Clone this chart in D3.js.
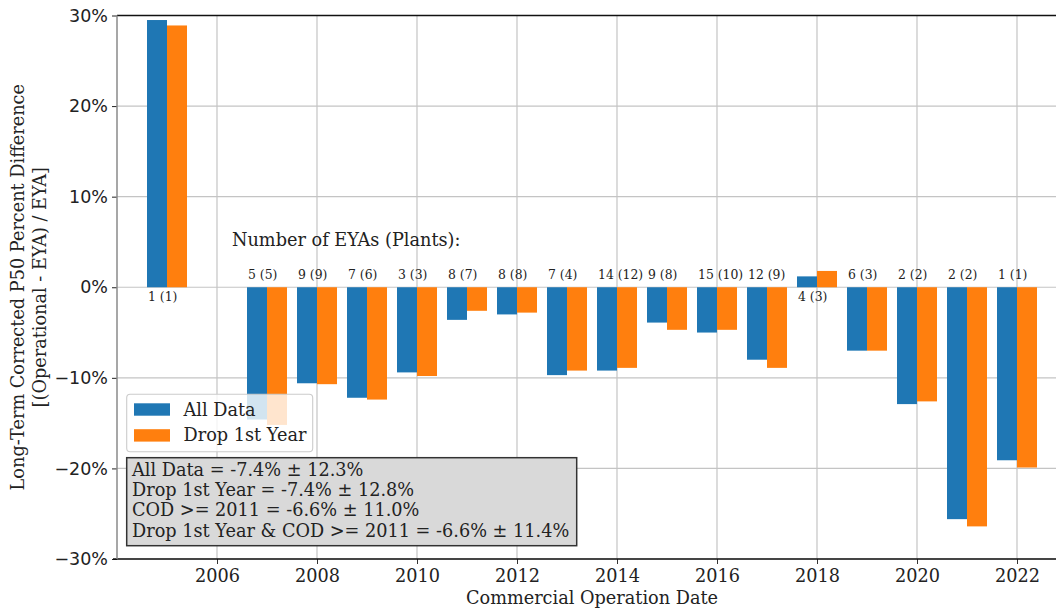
<!DOCTYPE html>
<html>
<head>
<meta charset="utf-8">
<script src="https://cdn.jsdelivr.net/npm/d3@7"></script>
<style>
  body { margin: 0; background: #fff; }
  svg { display: block; }
  .serif { font-family: "DejaVu Serif", serif; }
</style>
</head>
<body>
<svg id="chart" width="1056" height="610"></svg>
<script>
// commercial operation year of each group
var years = [2005, 2007, 2008, 2009, 2010, 2011, 2012, 2013, 2014,
             2015, 2016, 2017, 2018, 2019, 2020, 2021, 2022];
// mean percent difference, all data
var allData = [29.5, -14.6, -10.6, -12.2, -9.4, -3.6, -3.0, -9.7, -9.2,
               -3.9, -5.0, -8.0, 1.2, -7.0, -12.9, -25.6, -19.1];
// mean percent difference, first operational year dropped
var dropFirst = [28.9, -15.2, -10.7, -12.4, -9.8, -2.6, -2.8, -9.2, -8.9,
                 -4.7, -4.7, -8.9, 1.8, -7.0, -12.6, -26.4, -19.9];
// number of EYAs (plants) per group
var eyaCounts = ["1 (1)", "5 (5)", "9 (9)", "7 (6)", "3 (3)", "8 (7)", "8 (8)", "7 (4)", "14 (12)",
                 "9 (8)", "15 (10)", "12 (9)", "4 (3)", "6 (3)", "2 (2)", "2 (2)", "1 (1)"];
var xTicks = [2006, 2008, 2010, 2012, 2014, 2016, 2018, 2020, 2022];
var yTicks = [-30, -20, -10, 0, 10, 20, 30];
var seriesNames = ["All Data", "Drop 1st Year"];
var statLines = [
  "All Data = -7.4% \u00b1 12.3%",
  "Drop 1st Year = -7.4% \u00b1 12.8%",
  "COD >= 2011 = -6.6% \u00b1 11.0%",
  "Drop 1st Year & COD >= 2011 = -6.6% \u00b1 11.4%"
];

var colors = ["#1f77b4", "#ff7f0e"];
var barW = 0.4,
    fs = 17.7;

var svg = d3.select("#chart"),
    pLeft = 117, pRight = 1067, pTop = 15.5, pBottom = 559;

var x = d3.scaleLinear().domain([2004, 2023]).range([pLeft, pRight]);
var y = d3.scaleLinear().domain([-30, 30]).range([pBottom, pTop]);

// grid
var grid = svg.append("g").attr("stroke", "#c4c4c4").attr("stroke-width", 1.2);
grid.selectAll("line.gx").data(xTicks).enter().append("line")
    .attr("x1", function (d) { return x(d); }).attr("x2", function (d) { return x(d); })
    .attr("y1", pTop).attr("y2", pBottom);
grid.selectAll("line.gy").data(yTicks).enter().append("line")
    .attr("x1", pLeft).attr("x2", pRight)
    .attr("y1", function (d) { return y(d); }).attr("y2", function (d) { return y(d); });

// bars
var rows = years.map(function (yr, i) {
  return { year: yr, vals: [allData[i], dropFirst[i]], label: eyaCounts[i] };
});

[0, 1].forEach(function (s) {
  svg.append("g").selectAll("rect").data(rows).enter().append("rect")
      .attr("x", function (d) { return x(d.year - barW + s * barW); })
      .attr("width", x(2004 + barW) - x(2004))
      .attr("y", function (d) { return y(Math.max(0, d.vals[s])); })
      .attr("height", function (d) { return Math.abs(y(d.vals[s]) - y(0)); })
      .attr("fill", colors[s]);
});

// count labels, above zero for negative bars, below for positive
svg.append("g").attr("class", "serif").selectAll("text").data(rows).enter().append("text")
    .attr("x", function (d) { return x(d.year - barW) + 1; })
    .attr("y", function (d) { return d.vals[0] > 0 ? y(0) + 14 : y(0) - 8; })
    .attr("font-size", 12.4)
    .attr("fill", "#222")
    .text(function (d) { return d.label; });

svg.append("text").attr("class", "serif")
    .attr("x", x(2006.3)).attr("y", y(4.5))
    .attr("font-size", fs).attr("fill", "#222")
    .text("Number of EYAs (Plants):");

// axes
var xAxis = svg.append("g").attr("transform", "translate(0," + pBottom + ")")
    .call(d3.axisBottom(x).tickValues(xTicks).tickFormat(d3.format("d")).tickSize(5).tickPadding(5));
xAxis.select(".domain").remove();
xAxis.selectAll("text").attr("class", "serif").attr("font-size", fs).attr("fill", "#222");
xAxis.selectAll(".tick line").attr("stroke", "#333");

var yAxis = svg.append("g").attr("transform", "translate(" + pLeft + ",0)")
    .call(d3.axisLeft(y).tickValues(yTicks)
      .tickFormat(function (d) { return (d < 0 ? "\u2212" : "") + Math.abs(d) + "%"; })
      .tickSize(5).tickPadding(4));
yAxis.select(".domain").remove();
yAxis.selectAll("text").attr("font-family", "DejaVu Sans, sans-serif").attr("font-size", 17.5).attr("fill", "#222");
yAxis.selectAll(".tick line").attr("stroke", "#222");

// spines
svg.append("line").attr("x1", pLeft).attr("x2", pRight).attr("y1", pTop).attr("y2", pTop)
    .attr("stroke", "#111").attr("stroke-width", 1.3);
svg.append("line").attr("x1", pLeft - 4).attr("x2", pRight).attr("y1", pBottom).attr("y2", pBottom)
    .attr("stroke", "#111").attr("stroke-width", 1.3);
svg.append("line").attr("x1", pLeft).attr("x2", pLeft).attr("y1", pTop).attr("y2", pBottom)
    .attr("stroke", "#8a8a8a").attr("stroke-width", 1.5);

// axis titles
svg.append("text").attr("class", "serif")
    .attr("x", (pLeft + pRight) / 2).attr("y", 603.5)
    .attr("text-anchor", "middle").attr("font-size", fs).attr("fill", "#222")
    .text("Commercial Operation Date");

var yTitle = svg.append("text").attr("class", "serif")
    .attr("transform", "translate(0," + y(0) + ") rotate(-90)")
    .attr("text-anchor", "middle").attr("font-size", fs).attr("fill", "#222");
yTitle.append("tspan").attr("x", 0).attr("y", 24).text("Long-Term Corrected P50 Percent Difference");
yTitle.append("tspan").attr("x", 0).attr("y", 45.5).text("[(Operational - EYA) / EYA]");

// legend
var leg = svg.append("g").attr("class", "serif");
leg.append("rect").attr("x", 126.7).attr("y", 394.3).attr("width", 186).attr("height", 57.4)
    .attr("rx", 3.5).attr("fill", "#fff").attr("fill-opacity", 0.8)
    .attr("stroke", "#cccccc").attr("stroke-width", 1.1);
seriesNames.forEach(function (name, i) {
  leg.append("rect").attr("x", 134).attr("y", 403.3 + i * 25.9).attr("width", 36).attr("height", 12.4)
      .attr("fill", colors[i]);
  leg.append("text").attr("x", 183.5).attr("y", 415.5 + i * 25.9)
      .attr("font-size", fs).attr("fill", "#222").text(name);
});

// stats box
var stats = svg.append("g").attr("class", "serif");
stats.append("rect").attr("x", 126.7).attr("y", 457.7).attr("width", 450).attr("height", 88)
    .attr("fill", "#d9d9d9").attr("stroke", "#333").attr("stroke-width", 1.5);
stats.selectAll("text").data(statLines).enter().append("text")
    .attr("x", 132).attr("y", function (d, i) { return 475.7 + i * 20.3; })
    .attr("font-size", fs).attr("fill", "#222")
    .text(function (d) { return d; });
</script>
</body>
</html>
